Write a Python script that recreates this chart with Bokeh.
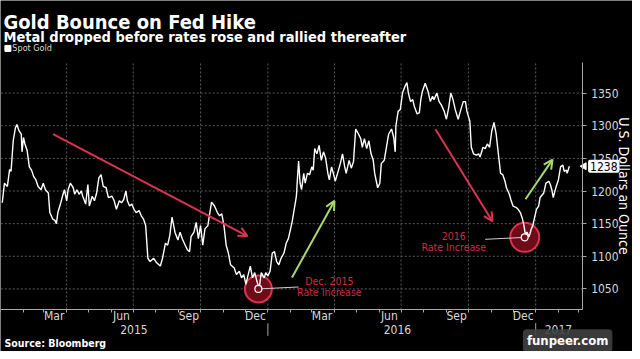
import math
import pandas as pd
from bokeh.plotting import figure
from bokeh.models import (ColumnDataSource, Range1d, FixedTicker, DatetimeTickFormatter,
                          DatetimeAxis, LinearAxis, Label, Arrow, OpenHead)
from bokeh.core.properties import value
from bokeh.embed import file_html
from bokeh.resources import INLINE

START = pd.Timestamp("2015-01-01")

# ---- data (day offsets from 2015-01-01, spot gold USD/oz) ----
days_since_2015 = [2, 5, 9, 12, 14, 17, 20, 22, 25, 28, 29, 31, 33, 36, 39, 42, 45, 48, 51, 55,
                   58, 61, 65, 67, 71, 74, 76, 78, 82, 85, 87, 90, 92, 95, 99, 101, 104, 107, 110, 112,
                   116, 119, 121, 125, 128, 131, 134, 137, 140, 144, 147, 152, 155, 158, 162, 165, 168, 171, 173, 176,
                   179, 182, 185, 189, 192, 195, 198, 201, 204, 209, 213, 218, 221, 225, 228, 231, 234, 238, 242, 245,
                   248, 252, 255, 258, 260, 264, 267, 270, 273, 276, 279, 283, 285, 288, 292, 296, 299, 302, 305, 308,
                   311, 314, 319, 322, 326, 329, 332, 335, 337, 341, 344, 347, 350, 353, 356, 360, 362, 365, 368, 371,
                   374, 377, 380, 383, 387, 390, 393, 395, 398, 401, 404, 405, 407, 409, 411, 414, 416, 419, 422, 425,
                   427, 429, 432, 435, 438, 441, 444, 447, 449, 452, 455, 457, 461, 464, 467, 470, 472, 476, 479, 482,
                   485, 489, 492, 494, 497, 500, 503, 506, 509, 511, 515, 518, 520, 524, 527, 530, 534, 537, 539, 540,
                   543, 546, 549, 553, 555, 557, 560, 563, 565, 569, 572, 574, 576, 580, 584, 587, 590, 592, 596, 599,
                   602, 606, 609, 612, 615, 618, 621, 625, 628, 632, 635, 637, 641, 643, 646, 650, 653, 655, 659, 662,
                   665, 668, 671, 674, 677, 680, 683, 686, 689, 691, 695, 697, 700, 704, 707, 710, 713, 715, 717, 719,
                   722, 725, 727, 729, 732, 735, 737, 742, 745, 749, 751, 753, 755, 759, 762, 765, 768, 770, 773, 774,
                   777]
spot_gold = [1182, 1212, 1207, 1233, 1230, 1277, 1297, 1302, 1292, 1287, 1260, 1282, 1272, 1262, 1237, 1232, 1222, 1217, 1207, 1202,
             1212, 1202, 1197, 1167, 1157, 1155, 1150, 1167, 1182, 1195, 1202, 1185, 1202, 1212, 1205, 1195, 1202, 1195, 1200, 1192,
             1180, 1210, 1177, 1192, 1185, 1197, 1220, 1225, 1207, 1205, 1190, 1192, 1185, 1172, 1185, 1182, 1187, 1200, 1185, 1177,
             1180, 1172, 1167, 1170, 1162, 1157, 1147, 1097, 1092, 1097, 1090, 1085, 1097, 1120, 1117, 1132, 1160, 1137, 1125, 1137,
             1127, 1117, 1110, 1107, 1130, 1137, 1152, 1127, 1147, 1117, 1142, 1147, 1162, 1183, 1177, 1167, 1162, 1165, 1147, 1117,
             1105, 1087, 1082, 1072, 1077, 1067, 1072, 1057, 1067, 1085, 1067, 1075, 1062, 1050, 1075, 1067, 1075, 1070, 1077, 1105,
             1107, 1092, 1087, 1097, 1105, 1120, 1127, 1137, 1152, 1172, 1192, 1212, 1246, 1212, 1202, 1227, 1212, 1227, 1225, 1237,
             1232, 1265, 1257, 1270, 1247, 1260, 1250, 1227, 1217, 1237, 1225, 1215, 1230, 1242, 1257, 1237, 1227, 1247, 1235, 1245,
             1295, 1287, 1280, 1267, 1280, 1265, 1277, 1257, 1247, 1227, 1205, 1212, 1242, 1247, 1267, 1287, 1295, 1282, 1260, 1300,
             1322, 1325, 1350, 1362, 1366, 1350, 1337, 1340, 1330, 1318, 1320, 1340, 1352, 1365, 1352, 1337, 1345, 1340, 1350, 1337,
             1332, 1322, 1310, 1327, 1350, 1340, 1325, 1310, 1322, 1337, 1337, 1322, 1307, 1267, 1257, 1255, 1257, 1252, 1267, 1265,
             1272, 1267, 1292, 1305, 1287, 1257, 1227, 1225, 1215, 1205, 1195, 1187, 1177, 1175, 1172, 1167, 1157, 1147, 1132, 1137,
             1130, 1142, 1147, 1157, 1172, 1177, 1190, 1197, 1212, 1215, 1210, 1202, 1190, 1207, 1217, 1237, 1240, 1230, 1232, 1227,
             1238]
last_price = 1238

price_ticks = [1050, 1100, 1150, 1200, 1250, 1300, 1350]
month_label_dates = ["2015-03-15", "2015-06-15", "2015-09-15", "2015-12-15",
                     "2016-03-15", "2016-06-15", "2016-09-15", "2016-12-15"]
year_labels = ["2015", "2016", "2017"]
year_label_dates = ["2015-07-02", "2016-06-26", "2017-02-01"]
year_break_dates = ["2016-01-01", "2017-01-01"]

# annotations (day offsets / prices)
hike_days = [352, 716]
hike_prices = [1050, 1129]
hike_label_days = [449, 619]
hike_label_lines = [["Dec. 2015", "Rate Increase"], ["2016", "Rate Increase"]]
hike_label_prices = [[1061.5, 1045], [1131, 1115]]
leader_end_days = [407, 662]
leader_end_prices = [1053, 1126]
red_arrows = [(71.5, 1287, 337, 1131), (594, 1294.6, 672, 1153.4)]
green_arrows = [(398, 1067.5, 456, 1184.8), (717, 1187.4, 754, 1248)]


def day2ms(d):
    return (START + pd.Timedelta(days=d)).value / 1e6


def ms(s):
    return pd.Timestamp(s).value / 1e6


# layout helpers: reference-pixel -> data space (chart area: x 0.3..589, y 63..316)
def rx(px):
    return day2ms((px - 0.3) / 0.741)


def ry(py):
    return 1350 - (py - 94.7) / 0.6677


FONT = "DejaVu Sans Condensed"
RED = "#dc3350"
RED_TXT = "#d12c3c"
GREEN = "#a8d96b"
GRID = "#5a5a5a"
AX = "#a8a8a8"
LBL = "#d8d8d8"

W, H = 632, 351
p = figure(width=W, height=H, x_axis_type="datetime",
           x_axis_location=None, y_axis_location=None,
           x_range=Range1d(rx(0), rx(640)), y_range=Range1d(ry(359), ry(0)),
           output_backend="svg", toolbar_location=None,
           background_fill_color="black", border_fill_color="black", outline_line_color=None,
           min_border=0, min_border_left=0, min_border_right=0, min_border_top=0, min_border_bottom=0)
p.xgrid.visible = False
p.ygrid.visible = False

cx0, cx1 = rx(0.3), rx(589)
cy0, cy1 = ry(316), ry(63)

# ---- grid lines (limited to chart area) ----
quarter_ms = [ms(d) for d in pd.date_range("2015-04-01", "2017-01-01", freq="QS").strftime("%Y-%m-%d")]
p.segment(quarter_ms, [cy0] * len(quarter_ms), quarter_ms, [cy1] * len(quarter_ms),
          line_color=GRID, line_width=1, line_dash="2 2")
p.segment([cx0] * len(price_ticks), price_ticks, [cx1] * len(price_ticks), price_ticks,
          line_color=GRID, line_width=1, line_dash="2 2")

# ---- axes (fixed at the chart edges) ----
xa = DatetimeAxis(fixed_location=cy0, bounds=(cx0, cx1))
xa.ticker = FixedTicker(ticks=[ms(d) for d in month_label_dates],
                        minor_ticks=[ms(d) for d in pd.date_range("2015-01-01", "2017-03-01", freq="MS").strftime("%Y-%m-%d")])
xa.formatter = DatetimeTickFormatter(months="%b", days="%b", years="%b", hours="%b", minutes="%b")
xa.major_tick_out = 0
xa.major_tick_in = 0
xa.major_tick_line_color = None
xa.minor_tick_out = 3
xa.minor_tick_in = 0
xa.minor_tick_line_color = AX
xa.axis_line_color = AX
xa.major_label_text_color = LBL
xa.major_label_text_font = FONT
xa.major_label_text_font_size = "12px"
xa.major_label_standoff = -3
p.add_layout(xa, "below")

ya = LinearAxis(fixed_location=cx1, bounds=(cy0, cy1))
ya.ticker = FixedTicker(ticks=price_ticks)
ya.major_tick_out = 4
ya.major_tick_in = 0
ya.major_tick_line_color = AX
ya.minor_tick_line_color = None
ya.axis_line_color = AX
ya.major_label_text_color = LBL
ya.major_label_text_font = FONT
ya.major_label_text_font_size = "12px"
ya.major_label_standoff = 5
ya.axis_label = "U.S. Dollars an Ounce"
ya.axis_label_text_color = "white"
ya.axis_label_text_font = FONT
ya.axis_label_text_font_size = "14px"
ya.axis_label_text_font_style = "normal"
ya.axis_label_standoff = -6
p.add_layout(ya, "right")

# year labels and year separators under the month labels
for lab, d in zip(year_labels, year_label_dates):
    p.add_layout(Label(x=ms(d), y=ry(337), text=lab, text_color=LBL, text_font=FONT,
                       text_font_size="12px", text_align="center", text_baseline="middle"))
yb = [ms(d) for d in year_break_dates]
p.segment(yb, [ry(330)] * len(yb), yb, [ry(343)] * len(yb), line_color=AX, line_width=1)

# ---- hike circles ----
hike_x = [day2ms(d) for d in hike_days]
p.scatter(hike_x, hike_prices, size=[27, 29], fill_color="#7a0c1c", fill_alpha=0.9,
          line_color=RED, line_width=2)

# ---- price line ----
src = ColumnDataSource(dict(date=[START + pd.Timedelta(days=d) for d in days_since_2015], price=spot_gold))
p.line("date", "price", source=src, line_color="white", line_width=1.4)

# leader lines + small markers
p.segment(hike_x, hike_prices, [day2ms(d) for d in leader_end_days], leader_end_prices,
          line_color="#d0d0d0", line_width=1)
p.scatter(hike_x, hike_prices, size=7, fill_color="#7a0c1c", line_color="white", line_width=1.2)

# hike labels
tx, ty, tt = [], [], []
for d, lines, ys in zip(hike_label_days, hike_label_lines, hike_label_prices):
    for s, yv in zip(lines, ys):
        tx.append(day2ms(d)); ty.append(yv); tt.append(s)
p.text(tx, ty, text=tt, text_color=RED_TXT, text_font=value(FONT), text_font_size="10.5px",
       text_align="center", text_baseline="middle")

# arrows
for (xs, ys, xe, ye), col in [(a, RED) for a in red_arrows] + [(a, GREEN) for a in green_arrows]:
    p.add_layout(Arrow(x_start=day2ms(xs), y_start=ys, x_end=day2ms(xe), y_end=ye,
                       line_color=col, line_width=2,
                       end=OpenHead(size=9, line_color=col, line_width=2)))

# ---- last price tag ----
p.scatter([rx(591)], [last_price], marker="triangle", angle=math.pi / 2, size=7,
          fill_color="white", line_color="white")
p.add_layout(Label(x=rx(595), y=last_price, text=str(last_price), text_color="black",
                   text_font=FONT, text_font_size="12px", text_baseline="middle",
                   background_fill_color="white", padding=2, border_radius=2))

# ---- titles, legend, source ----
p.add_layout(Label(x=rx(3), y=ry(21.5), text="Gold Bounce on Fed Hike",
                   text_color="white", text_font=FONT, text_font_size="20px", text_font_style="bold",
                   text_baseline="alphabetic"))
p.add_layout(Label(x=rx(3), y=ry(37.5), text="Metal dropped before rates rose and rallied thereafter",
                   text_color="white", text_font=FONT, text_font_size="14.5px", text_font_style="bold",
                   text_baseline="alphabetic"))
p.scatter([rx(7.5)], [ry(49)], marker="square", size=6, fill_color="white", line_color="white")
p.add_layout(Label(x=rx(12), y=ry(49), text="Spot Gold",
                   text_color=LBL, text_font=FONT, text_font_size="9px", text_baseline="middle"))
p.add_layout(Label(x=rx(4), y=ry(350), text="Source: Bloomberg",
                   text_color="white", text_font=FONT, text_font_size="10.5px", text_font_style="bold",
                   text_baseline="alphabetic"))
p.add_layout(Label(x=rx(529), y=ry(348), text="funpeer.com",
                   text_color="white", text_font=FONT, text_font_size="13px", text_font_style="bold",
                   text_baseline="middle", background_fill_color="#404040", background_fill_alpha=0.9,
                   padding=4, border_radius=4))

open("out.html", "w").write(file_html(p, INLINE))
